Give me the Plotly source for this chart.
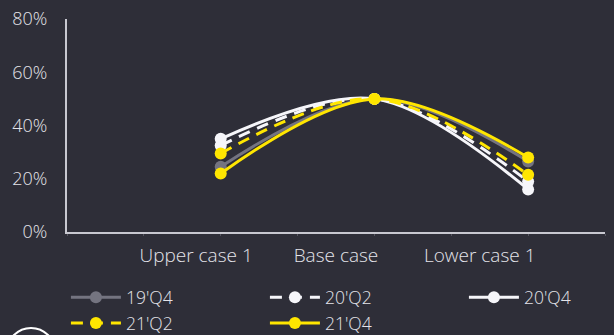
import plotly.graph_objects as go

# Scenario positions on the x axis and their labels
scenario_x = [2, 4, 6]
label_x = [1.68, 3.5, 5.37]
scenario_labels = ["Upper case 1", "Base case", "Lower case 1"]

# Share (%) per scenario for each vintage
s19q4 = [24.5, 50, 26.5]
s20q2 = [32.5, 50, 19]
s20q4 = [35, 50, 16]
s21q2 = [29.5, 50, 21.5]
s21q4 = [22, 50, 28]

y_ticks = [0, 20, 40, 60, 80]
y_ticktext = ["0%", "20%", "40%", "60%", "80%"]

BG = "#2e2e38"
GREY = "#747480"
WHITE = "#f6f6fa"
YELLOW = "#ffe600"
TEXT = "#e4e4ea"
FONT = "Open Sans"

series = [
    ("19'Q4", s19q4, GREY, "solid"),
    ("20'Q2", s20q2, WHITE, "12px,8px"),
    ("20'Q4", s20q4, WHITE, "solid"),
    ("21'Q2", s21q2, YELLOW, "12px,8px"),
    ("21'Q4", s21q4, YELLOW, "solid"),
]

fig = go.Figure()
for name, vals, color, dash in series:
    fig.add_trace(go.Scatter(
        x=scenario_x, y=vals, name=name,
        mode="lines+markers",
        line=dict(color=color, width=3, dash=dash, shape="spline"),
        marker=dict(color=color, size=12),
    ))

fig.update_layout(
    width=614, height=335,
    margin=dict(l=67, r=9, t=19, b=103, autoexpand=False),
    paper_bgcolor=BG, plot_bgcolor=BG,
    font=dict(family=FONT, size=18, color=TEXT, weight=300),
    showlegend=True,
    legend=dict(
        orientation="h", x=-0.002, y=-0.222, xanchor="left", yanchor="top",
        entrywidth=134, entrywidthmode="pixels",
        font=dict(family=FONT, size=17.5, color=TEXT, weight=300),
        bgcolor="rgba(0,0,0,0)", itemwidth=50,
        tracegroupgap=0,
    ),
    xaxis=dict(
        range=[0, 7], showgrid=False, zeroline=False,
        showline=True, linecolor="#c8c8d0", linewidth=2,
        tickvals=label_x, ticktext=scenario_labels, ticks="",
        ticklabelstandoff=5,
        tickfont=dict(family=FONT, size=19, color=TEXT, weight=300),
        minor=dict(dtick=1, tick0=0, ticks="outside", ticklen=2,
                   tickcolor="#55555f", showgrid=False),
        fixedrange=True,
    ),
    yaxis=dict(
        range=[0, 80], showgrid=False, zeroline=False,
        showline=True, linecolor="#c8c8d0", linewidth=2,
        tickvals=y_ticks, ticktext=y_ticktext, ticks="",
        ticklabelstandoff=14,
        tickfont=dict(family=FONT, size=18, color=TEXT, weight=300),
        fixedrange=True,
    ),
)

# Logo outline partially visible in the lower-left corner
fig.add_shape(
    type="circle", xref="paper", yref="paper",
    x0=-0.1115, x1=-0.0223, y0=-0.676, y1=-0.4507,
    line=dict(color="#ffffff", width=2),
)

fig.write_html("out.html", config={"displayModeBar": False})
